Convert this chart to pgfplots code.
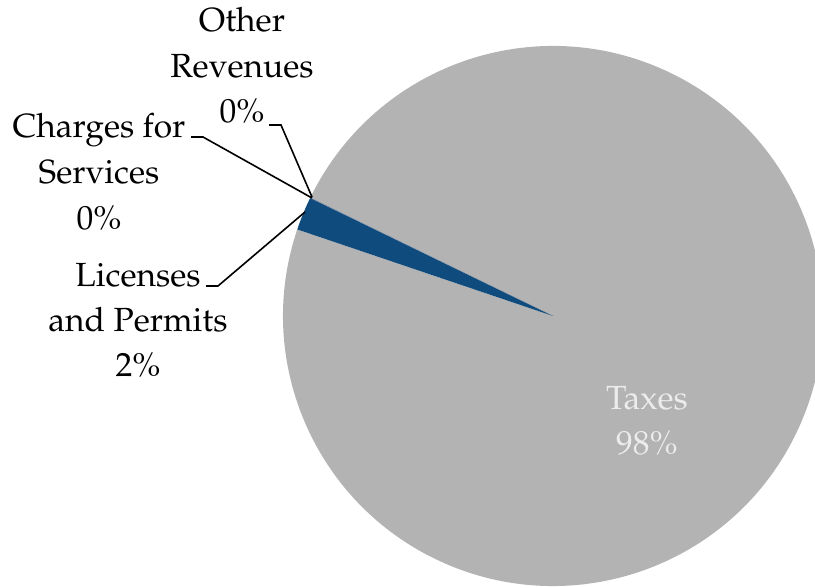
\documentclass[border=0pt]{standalone}
\usepackage[T1]{fontenc}
\usepackage{mathpazo}
\usepackage{pgfplots}
\pgfplotsset{compat=1.18}
\definecolor{taxgray}{RGB}{179,179,179}
\definecolor{licblue}{RGB}{16,75,125}
\definecolor{chgcol}{RGB}{70,110,160}
\definecolor{othcol}{RGB}{150,150,150}
\definecolor{labwhite}{RGB}{236,236,236}
% shares in percent
\def\vLic{2.0}
\def\vChg{0.03}
\def\vOth{0.02}
\def\vTax{97.95}
\pgfmathsetmacro\aA{161.3}
\pgfmathsetmacro\aB{\aA-3.6*\vLic}
\pgfmathsetmacro\aC{\aB-3.6*\vChg}
\pgfmathsetmacro\aD{\aC-3.6*\vOth}
\pgfmathsetmacro\aE{\aD-3.6*\vTax}
\begin{document}
\begin{tikzpicture}[lab/.style={anchor=base,inner sep=0pt,font=\fontsize{33.5}{40}\selectfont}]
\useasboundingbox (0,0) rectangle (815pt,588pt);
\clip (0,0) rectangle (815pt,588pt);
\begin{axis}[x=1pt,y=1pt,xmin=0,xmax=815,ymin=0,ymax=588,hide axis,
  at={(0pt,0pt)},anchor=origin,clip=false]
\fill[taxgray] (axis cs:553,272) -- ++(\aD:270pt) arc[start angle=\aD,end angle=\aE,radius=270pt] -- cycle;
\fill[licblue] (axis cs:553,272) -- ++(\aA:270pt) arc[start angle=\aA,end angle=\aB,radius=270pt] -- cycle;
\fill[chgcol] (axis cs:553,272) -- ++(\aB:270pt) arc[start angle=\aB,end angle=\aC,radius=270pt] -- cycle;
\fill[othcol] (axis cs:553,272) -- ++(\aC:270pt) arc[start angle=\aC,end angle=\aD,radius=270pt] -- cycle;
% leader lines
\draw[line width=1.6pt] (axis cs:269,463) -- (axis cs:281,463) -- (axis cs:312,391);
\draw[line width=1.6pt] (axis cs:191,451) -- (axis cs:203,451) -- (axis cs:312,390);
\draw[line width=1.6pt] (axis cs:206,302) -- (axis cs:218,302) -- (axis cs:305,376);
% labels
\node[lab] at (axis cs:242,556) {Other};
\node[lab] at (axis cs:242,510) {Revenues};
\node[lab] at (axis cs:242,465) {0\%};
\node[lab] at (axis cs:99,450) {Charges for};
\node[lab] at (axis cs:99,404) {Services};
\node[lab] at (axis cs:99,358) {0\%};
\node[lab] at (axis cs:138,301) {Licenses};
\node[lab] at (axis cs:138,256) {and Permits};
\node[lab] at (axis cs:138,211) {2\%};
\node[lab,text=labwhite] at (axis cs:647,178) {Taxes};
\node[lab,text=labwhite] at (axis cs:647,133) {98\%};
\end{axis}
\end{tikzpicture}
\end{document}
